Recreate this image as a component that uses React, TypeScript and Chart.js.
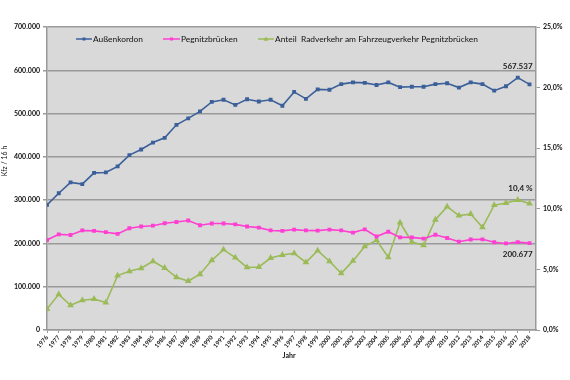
import React, { useEffect, useRef } from 'react';
import { Chart, registerables } from 'chart.js';

Chart.register(...registerables);

const years = [
  '1976', '1977', '1978', '1979', '1980', '1981', '1982', '1983', '1984', '1985',
  '1986', '1987', '1988', '1989', '1990', '1991', '1992', '1993', '1994', '1995',
  '1996', '1997', '1998', '1999', '2000', '2001', '2002', '2003', '2004', '2005',
  '2006', '2007', '2008', '2009', '2010', '2012', '2013', '2014', '2015', '2016',
  '2017', '2018',
];

const aussenkordon = [
  289000, 316000, 341000, 337000, 363000, 364000, 378000, 404000, 417000, 433000,
  444000, 474000, 489000, 505000, 527000, 532000, 520000, 533000, 528000, 532000,
  518000, 550000, 534000, 556000, 555000, 568000, 572000, 571000, 566000, 572000,
  561000, 562000, 562000, 568000, 570000, 560000, 572000, 568000, 553000, 563000,
  583000, 567537,
];

const pegnitzbruecken = [
  208000, 221000, 219500, 230000, 229000, 226000, 222000, 235000, 239000, 241000,
  246500, 249500, 253000, 242000, 246000, 246000, 244000, 239000, 236500, 230000,
  229000, 232000, 230000, 229500, 232000, 230000, 225000, 232600, 216000, 227000,
  214000, 214000, 211000, 220000, 212500, 204000, 209000, 209500, 202600, 200000,
  203000, 200677,
];

const anteilRadverkehr = [
  1.73, 2.94, 2.04, 2.45, 2.56, 2.26, 4.49, 4.84, 5.09, 5.67,
  5.12, 4.35, 4.04, 4.6, 5.75, 6.63, 5.97, 5.17, 5.2, 5.94,
  6.19, 6.33, 5.58, 6.55, 5.67, 4.68, 5.7, 6.9, 7.4, 6.0,
  8.86, 7.26, 6.99, 9.1, 10.18, 9.44, 9.57, 8.47, 10.3, 10.48,
  10.73, 10.43,
];

const seriesNames = [
  'Außenkordon',
  'Pegnitzbrücken',
  'Anteil  Radverkehr am Fahrzeugverkehr Pegnitzbrücken',
];

const leftTickValues = [0, 100000, 200000, 300000, 400000, 500000, 600000, 700000];
const rightTickValues = [0, 5, 10, 15, 20, 25];

const endLabels = ['567.537', '200.677', '10,4 %'];

const BLUE = '#3a5f99';
const PINK = '#ff3fd2';
const GREEN = '#9bbb59';
const GRID = '#9a9a9a';
const FONT = 'Lato, "DejaVu Sans", sans-serif';

const fmtThousands = (v: number) =>
  String(Math.round(v)).replace(/\B(?=(\d{3})+(?!\d))/g, '.');

const plotBg = {
  id: 'plotBg',
  beforeDraw(chart: any) {
    const { ctx, chartArea } = chart;
    ctx.save();
    ctx.fillStyle = '#d9d9d9';
    ctx.fillRect(chartArea.left, chartArea.top, chartArea.right - chartArea.left, chartArea.bottom - chartArea.top);
    ctx.restore();
  },
};

const extras = {
  id: 'extras',
  afterDraw(chart: any) {
    const { ctx } = chart;
    ctx.save();
    // legend inside plot area
    const legendPos = [
      { x0: 76, x1: 92, tx: 93 },
      { x0: 163, x1: 180, tx: 181 },
      { x0: 258, x1: 274, tx: 275 },
    ];
    const ly = 39;
    chart.data.datasets.forEach((ds: any, i: number) => {
      const p = legendPos[i];
      ctx.strokeStyle = ds.borderColor;
      ctx.lineWidth = 1.5;
      ctx.beginPath();
      ctx.moveTo(p.x0, ly);
      ctx.lineTo(p.x1, ly);
      ctx.stroke();
      ctx.fillStyle = ds.borderColor;
      const cx = (p.x0 + p.x1) / 2;
      ctx.beginPath();
      if (i === 2) {
        ctx.moveTo(cx, ly - 2.5);
        ctx.lineTo(cx + 2.5, ly + 1.8);
        ctx.lineTo(cx - 2.5, ly + 1.8);
      } else {
        ctx.rect(cx - 1.5, ly - 1.5, 3, 3);
      }
      ctx.fill();
      ctx.fillStyle = '#111';
      ctx.font = `8.4px ${FONT}`;
      ctx.textBaseline = 'middle';
      ctx.textAlign = 'left';
      ctx.fillText(ds.label, p.tx, ly);
    });

    // end value labels
    ctx.font = `bold 8px ${FONT}`;
    ctx.fillStyle = '#222';
    ctx.textAlign = 'right';
    ctx.textBaseline = 'middle';
    const offs = [-18, 11, -15];
    chart.data.datasets.forEach((ds: any, i: number) => {
      const meta = chart.getDatasetMeta(i);
      const pt = meta.data[meta.data.length - 1];
      ctx.fillText(endLabels[i], pt.x + 3, pt.y + offs[i]);
    });

    // axis titles
    ctx.fillStyle = '#111';
    ctx.font = `7px ${FONT}`;
    ctx.textAlign = 'center';
    ctx.save();
    ctx.translate(5, 161);
    ctx.rotate(-Math.PI / 2);
    ctx.fillText('Kfz / 16 h', 0, 0);
    ctx.restore();
    ctx.font = `bold 7px ${FONT}`;
    ctx.fillText('Jahr', 289, 356);
    ctx.restore();
  },
};

export default function App() {
  const canvasRef = useRef<HTMLCanvasElement | null>(null);

  useEffect(() => {
    document.body.style.margin = '0';
    const canvas = canvasRef.current;
    if (!canvas) return;
    const chart = new Chart(canvas, {
      type: 'line',
      data: {
        datasets: [
          {
            label: seriesNames[0],
            data: aussenkordon.map((v, i) => ({ x: i, y: v })),
            borderColor: BLUE,
            backgroundColor: BLUE,
            borderWidth: 1.6,
            pointStyle: 'rect',
            pointRadius: 1.6,
            yAxisID: 'y',
          },
          {
            label: seriesNames[1],
            data: pegnitzbruecken.map((v, i) => ({ x: i, y: v })),
            borderColor: PINK,
            backgroundColor: PINK,
            borderWidth: 1.6,
            pointStyle: 'rect',
            pointRadius: 1.6,
            yAxisID: 'y',
          },
          {
            label: seriesNames[2],
            data: anteilRadverkehr.map((v, i) => ({ x: i, y: v })),
            borderColor: GREEN,
            backgroundColor: GREEN,
            borderWidth: 1.6,
            pointStyle: 'triangle',
            pointRadius: 2.3,
            yAxisID: 'y1',
          },
        ],
      },
      options: {
        animation: false,
        responsive: true,
        maintainAspectRatio: false,
        layout: { padding: { top: 27, left: 0, right: 0, bottom: 0 } },
        plugins: {
          legend: { display: false },
          tooltip: { enabled: false },
          title: { display: false },
        },
        elements: { line: { tension: 0 } },
        scales: {
          x: {
            type: 'linear',
            min: 0,
            max: 41.55,
            afterBuildTicks: (scale: any) => {
              scale.ticks = years.map((_, i) => ({ value: i }));
            },
            afterFit: (scale: any) => {
              scale.height = 50;
            },
            ticks: {
              autoSkip: false,
              minRotation: 50,
              maxRotation: 50,
              padding: 1,
              color: '#111',
              font: { family: FONT, size: 6, weight: 'bold' },
              callback: (v: any) => years[v] ?? '',
            },
            grid: {
              drawOnChartArea: false,
              drawTicks: true,
              tickLength: 3,
              color: GRID,
            },
            border: { color: GRID, width: 1.5 },
          },
          y: {
            type: 'linear',
            position: 'left',
            min: 0,
            max: 700000,
            afterBuildTicks: (scale: any) => {
              scale.ticks = leftTickValues.map((v) => ({ value: v }));
            },
            afterFit: (scale: any) => {
              scale.width = 47;
            },
            ticks: {
              color: '#111',
              padding: 3,
              font: { family: FONT, size: 7, weight: 'bold' },
              callback: (v: any) => fmtThousands(Number(v)),
            },
            grid: { color: GRID, lineWidth: 1.5, tickLength: 4 },
            border: { color: GRID, width: 1.5 },
          },
          y1: {
            type: 'linear',
            position: 'right',
            min: 0,
            max: 25,
            afterBuildTicks: (scale: any) => {
              scale.ticks = rightTickValues.map((v) => ({ value: v }));
            },
            afterFit: (scale: any) => {
              scale.width = 34;
            },
            ticks: {
              color: '#111',
              padding: 3,
              font: { family: FONT, size: 7, weight: 'bold' },
              callback: (v: any) => Number(v).toFixed(1).replace('.', ',') + '%',
            },
            grid: { drawOnChartArea: false, color: GRID, tickLength: 4 },
            border: { color: GRID, width: 1.5 },
          },
        },
      },
      plugins: [plotBg, extras],
    } as any);
    return () => chart.destroy();
  }, []);

  return (
    <div style={{ position: 'fixed', left: 0, top: 0, width: 570, height: 380, background: '#fff' }}>
      <canvas ref={canvasRef} />
    </div>
  );
}
